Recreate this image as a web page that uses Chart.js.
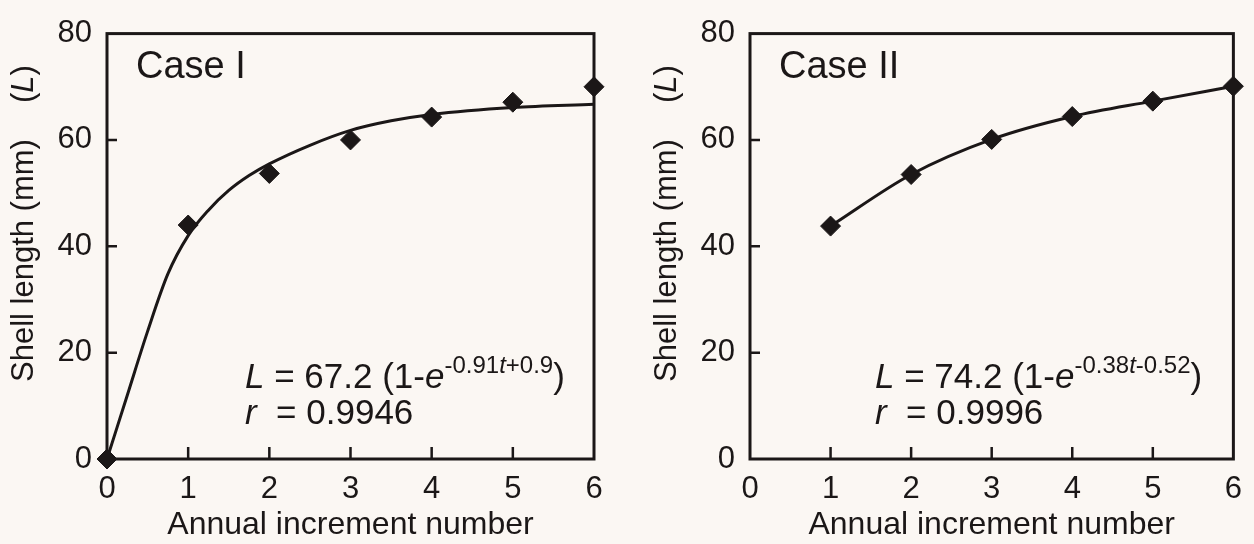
<!DOCTYPE html>
<html>
<head>
<meta charset="utf-8">
<title>Shell length vs annual increment number</title>
<script src="https://cdn.jsdelivr.net/npm/chart.js@4.4.1/dist/chart.umd.min.js"></script>
<style>
  html, body { margin: 0; padding: 0; background: #fbf7f3; }
  #wrap { display: flex; width: 1254px; height: 544px; }
  .panel { width: 627px; height: 544px; }
</style>
</head>
<body>
<div id="wrap">
  <div class="panel"><canvas id="caseI" width="627" height="544"></canvas></div>
  <div class="panel"><canvas id="caseII" width="627" height="544"></canvas></div>
</div>
<script>
// measured shell lengths (mm) by annual increment
const caseIYears = [0, 1, 2, 3, 4, 5, 6];
const caseILength = [0, 44, 53.7, 60, 64.3, 67.1, 70];
// fitted curve for case I
const caseIFitT = [0, 0.25, 0.5, 0.75, 1, 1.25, 1.5, 1.75, 2, 2.5, 3, 3.5, 4, 5, 6];
const caseIFitL = [0, 12, 24, 34.8, 42, 46.8, 50.5, 53.3, 55.5, 59, 61.8, 63.6, 64.8, 66.1, 66.7];

const caseIIYears = [1, 2, 3, 4, 5, 6];
const caseIILength = [43.8, 53.5, 60.1, 64.4, 67.3, 70.1];

const xTicks = [0, 1, 2, 3, 4, 5, 6];
const yTicks = [0, 20, 40, 60, 80];

const INK = '#1b1717';
const FONT = '"Liberation Sans", Arial, sans-serif';
const TICK_SIZE = 31;
const EQ_SIZE = 35;
const YTITLE_SIZE = 31;

function pts(xs, ys) {
    return xs.map((x, i) => ({ x: x, y: ys[i] }));
}

// draws a run of text pieces: [text, italic, superscript]
function drawRun(ctx, x, y, size, pieces) {
    let cx = x;
    pieces.forEach(([txt, ital, sup]) => {
        const s = sup ? Math.round(size * 0.68) : size;
        ctx.font = (ital ? 'italic ' : '') + s + 'px ' + FONT;
        ctx.fillText(txt, cx, sup ? y - size * 0.42 : y);
        cx += ctx.measureText(txt).width;
    });
}

function framePlugin(label, formula, rValue, formulaDx) {
    return {
        id: 'frame',
        beforeDatasetsDraw(chart) {
            const { ctx, chartArea: a, scales } = chart;
            ctx.save();
            ctx.strokeStyle = INK;
            ctx.lineWidth = 3;
            ctx.strokeRect(a.left, a.top, a.right - a.left, a.bottom - a.top);
            // inward tick marks
            ctx.lineWidth = 2.5;
            ctx.beginPath();
            yTicks.slice(1, -1).forEach(v => {
                const py = scales.y.getPixelForValue(v);
                ctx.moveTo(a.left, py);
                ctx.lineTo(a.left + 10, py);
            });
            xTicks.slice(1, -1).forEach(v => {
                const px = scales.x.getPixelForValue(v);
                ctx.moveTo(px, a.bottom);
                ctx.lineTo(px, a.bottom - 12);
            });
            ctx.stroke();
            ctx.restore();
        },
        afterDraw(chart) {
            const { ctx, chartArea: a } = chart;
            ctx.save();
            ctx.fillStyle = INK;
            ctx.textBaseline = 'alphabetic';
            ctx.textAlign = 'left';
            ctx.font = '38px ' + FONT;
            ctx.fillText(label, a.left + 29, a.top + 44);

            drawRun(ctx, a.left + formulaDx, a.top + 354, EQ_SIZE, formula);
            drawRun(ctx, a.left + formulaDx, a.top + 390, EQ_SIZE, [['r', true], ['  = ' + rValue, false]]);

            // y axis title, rotated
            ctx.translate(a.left - 74, a.bottom - 77);
            ctx.rotate(-Math.PI / 2);
            ctx.font = YTITLE_SIZE + 'px ' + FONT;
            ctx.fillText('Shell length (mm)', 0, 0);
            drawRun(ctx, 279, 0, YTITLE_SIZE, [['(', false], ['L', true], [')', false]]);
            ctx.restore();
        }
    };
}

function makeChart(id, datasets, yWidth, rightPad, plugin) {
    return new Chart(document.getElementById(id), {
        type: 'scatter',
        data: { datasets: datasets },
        options: {
            responsive: false,
            animation: false,
            events: [],
            layout: { padding: { top: 18, right: rightPad, bottom: 0, left: 0 } },
            plugins: { legend: { display: false }, tooltip: { enabled: false } },
            scales: {
                x: {
                    type: 'linear', min: 0, max: 6,
                    afterBuildTicks: s => { s.ticks = xTicks.map(v => ({ value: v })); },
                    ticks: { font: { family: FONT, size: TICK_SIZE }, color: INK, padding: 12 },
                    grid: { display: false, drawTicks: false },
                    border: { display: false },
                    title: {
                        display: true, text: 'Annual increment number',
                        font: { family: FONT, size: 32 }, color: INK,
                        padding: { top: 0, bottom: 0 }
                    },
                    afterFit: s => { s.height = 85; }
                },
                y: {
                    type: 'linear', min: 0, max: 80,
                    afterBuildTicks: s => { s.ticks = yTicks.map(v => ({ value: v })); },
                    ticks: { font: { family: FONT, size: TICK_SIZE }, color: INK, padding: 15 },
                    grid: { display: false, drawTicks: false },
                    border: { display: false },
                    afterFit: s => { s.width = yWidth; }
                }
            }
        },
        plugins: [plugin]
    });
}

const diamond = {
    pointStyle: 'rectRot', pointRadius: 10,
    pointBackgroundColor: INK, pointBorderColor: INK, pointBorderWidth: 1
};

makeChart('caseI', [
    Object.assign({}, diamond, {
        label: 'Observed', data: pts(caseIYears, caseILength),
        showLine: false, clip: false
    }),
    {
        label: 'Fit', data: pts(caseIFitT, caseIFitL),
        showLine: true, borderColor: INK, borderWidth: 3,
        pointRadius: 0, cubicInterpolationMode: 'monotone'
    }
], 107, 33, framePlugin('Case I', [
    ['L', true], [' = 67.2 (1-', false], ['e', true],
    ['-0.91', false, true], ['t', true, true], ['+0.9', false, true], [')', false]
], '0.9946', 138));

makeChart('caseII', [
    Object.assign({}, diamond, {
        label: 'Observed', data: pts(caseIIYears, caseIILength),
        showLine: true, borderColor: INK, borderWidth: 3,
        cubicInterpolationMode: 'monotone', clip: false
    })
], 123, 17, framePlugin('Case II', [
    ['L', true], [' = 74.2 (1-', false], ['e', true],
    ['-0.38', false, true], ['t', true, true], ['-0.52', false, true], [')', false]
], '0.9996', 125));
</script>
</body>
</html>
